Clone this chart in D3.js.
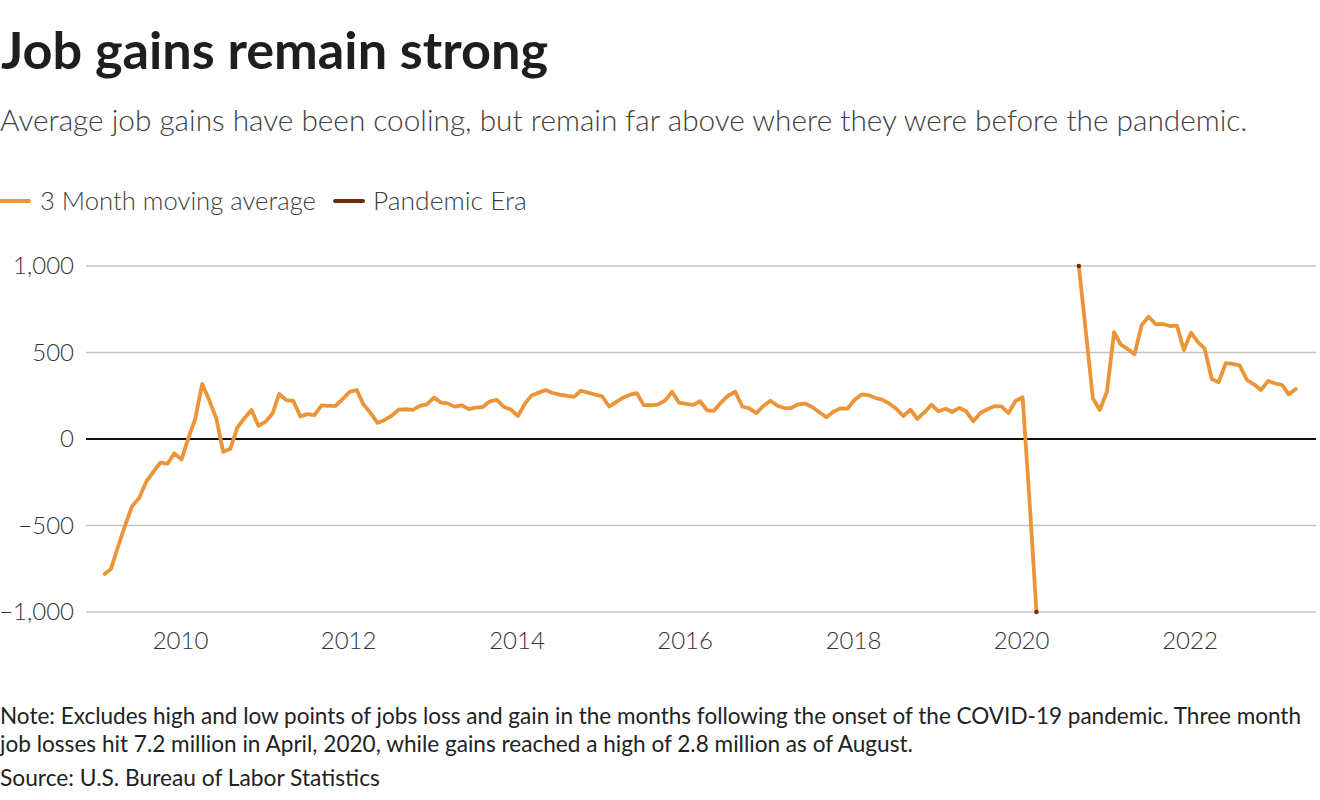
<!DOCTYPE html>
<html><head><meta charset="utf-8">
<script src="https://cdn.jsdelivr.net/npm/d3@7"></script>
<style>body{margin:0;background:#fff} svg{display:block}</style>
</head><body><svg id="c" width="1320" height="800"></svg>
<script>
// ---- data ----
const title = "Job gains remain strong";
const subtitle = "Average job gains have been cooling, but remain far above where they were before the pandemic.";
const seriesNames = ["3 Month moving average", "Pandemic Era"];
const firstMonth = [2009, 1]; // Feb 2009 (year, zero-based month)
// 3-month moving average of payroll gains (thousands), monthly from Feb 2009 to Apr 2023
// pandemic extremes (Apr–Aug 2020) excluded (null); values beyond ±1,000 shown at the axis limit
const movingAvg = [
 -780,-751,-620,-500,-387,-341,-247,-190,-137,-143,-83,-119,
 10,113,318,225,120,-74,-56,67,120,168,76,100,
 149,260,225,221,131,144,138,194,192,191,230,273,
 283,200,150,93,110,134,170,172,168,191,200,239,
 210,206,187,195,173,181,185,218,227,185,170,133,
 206,252,268,283,266,256,250,243,279,268,257,247,
 188,212,238,255,265,196,195,200,222,273,210,203,
 197,218,166,163,212,250,273,188,177,150,191,221,
 192,179,179,200,205,185,155,126,158,177,175,225,
 258,254,238,228,205,175,133,169,116,155,198,160,
 175,156,180,160,102,150,172,190,188,150,220,241,
 -380,-1000,null,null,null,null,null,1000,626,235,168,273,
 617,547,520,490,659,707,663,665,653,655,514,615,
 559,524,347,328,438,434,424,341,316,283,335,322,
 312,258,289
];
const pandemicMonths = ["2020-03", "2020-09"];
const pandemicValues = [-1000, 1000];
const yTicks = [-1000, -500, 0, 500, 1000];
const xTickYears = [2010, 2012, 2014, 2016, 2018, 2020, 2022];
const noteLines = [
 "Note: Excludes high and low points of jobs loss and gain in the months following the onset of the COVID-19 pandemic. Three month",
 "job losses hit 7.2 million in April, 2020, while gains reached a high of 2.8 million as of August."
];
const source = "Source: U.S. Bureau of Labor Statistics";

// ---- styles ----
const FONT = "Lato, 'Source Sans Pro', 'Noto Sans', sans-serif";
const ORANGE = "#ec9438";
const BROWN = "#6e2c0c";

const svg = d3.select("#c");
const plot = {left: 86, right: 1316, top: 266, bottom: 612};

const avgData = movingAvg.map((v, i) => ({date: new Date(firstMonth[0], firstMonth[1] + i, 1), value: v}));
const pandData = pandemicMonths.map((m, i) => {
  const [yy, mo] = m.split("-").map(Number);
  return {date: new Date(yy, mo - 1, 1), value: pandemicValues[i]};
});

const x = d3.scaleTime()
  .domain([new Date(2010, 0, 1), new Date(2022, 0, 1)])
  .range([181.5, 1191]);
const y = d3.scaleLinear().domain([-1000, 1000]).range([plot.bottom, plot.top]);

function fit(sel, target) {
  const n = sel.node();
  const fs = parseFloat(sel.attr("font-size"));
  const len = n.getComputedTextLength();
  sel.attr("font-size", (fs * target / len).toFixed(2));
}

// title & subtitle
fit(svg.append("text").attr("x", 1).attr("y", 69).attr("font-family", FONT)
  .attr("font-weight", 700).attr("font-size", 46).attr("fill", "#1e1e1e").text(title), 547);
fit(svg.append("text").attr("x", 0).attr("y", 131).attr("font-family", FONT)
  .attr("font-weight", 300).attr("font-size", 28).attr("fill", "#404040").text(subtitle), 1248);

// legend
const leg = svg.append("g");
const legItems = [
  {name: seriesNames[0], color: ORANGE, x0: 0, tx: 40, w: 276},
  {name: seriesNames[1], color: BROWN, x0: 334, tx: 373, w: 154}
];
legItems.forEach(d => {
  leg.append("line").attr("x1", d.x0 + 1).attr("x2", d.x0 + 29).attr("y1", 201).attr("y2", 201)
    .attr("stroke", d.color).attr("stroke-width", 4).attr("stroke-linecap", "round");
  fit(leg.append("text").attr("x", d.tx).attr("y", 210).attr("font-family", FONT)
    .attr("font-weight", 300).attr("font-size", 25).attr("fill", "#404040").text(d.name), d.w);
});

// y grid & labels
const yAxis = svg.append("g");
yTicks.forEach(t => {
  yAxis.append("line").attr("x1", plot.left).attr("x2", plot.right)
    .attr("y1", y(t)).attr("y2", y(t))
    .attr("stroke", t === 0 ? "#111" : "#c4c4c4").attr("stroke-width", t === 0 ? 2 : 1.5);
  yAxis.append("text").attr("x", 74).attr("y", y(t)).attr("dy", "0.35em")
    .attr("text-anchor", "end").attr("font-family", FONT).attr("font-weight", 300)
    .attr("font-size", 24).attr("fill", "#333").text(d3.format(",")(t).replace("-", "\u2212"));
});

// x labels
const xAxis = svg.append("g");
xTickYears.forEach(yr => {
  xAxis.append("text").attr("x", x(new Date(yr, 0, 1)) - 1).attr("y", 641).attr("dy", "0.35em")
    .attr("text-anchor", "middle").attr("font-family", FONT).attr("font-weight", 300)
    .attr("font-size", 24).attr("fill", "#333").text(yr);
});

// line
const line = d3.line().defined(d => d.value !== null)
  .x(d => x(d.date)).y(d => y(d.value)).curve(d3.curveLinear);
svg.append("path").datum(avgData).attr("d", line).attr("fill", "none")
  .attr("stroke", ORANGE).attr("stroke-width", 3.8).attr("stroke-linejoin", "round")
  .attr("stroke-linecap", "round");

// pandemic era markers
svg.append("g").selectAll("circle").data(pandData).join("circle")
  .attr("cx", d => x(d.date)).attr("cy", d => y(d.value)).attr("r", 2.2).attr("fill", BROWN);

// notes
noteLines.forEach((t, i) => {
  const s = svg.append("text").attr("x", 0).attr("y", 724 + i * 28).attr("font-family", FONT)
    .attr("font-size", 20).attr("fill", "#222").text(t);
  fit(s, i === 0 ? 1301 : 913);
});
fit(svg.append("text").attr("x", 0).attr("y", 786).attr("font-family", FONT)
  .attr("font-size", 20).attr("fill", "#222").text(source), 380);
</script></body></html>
